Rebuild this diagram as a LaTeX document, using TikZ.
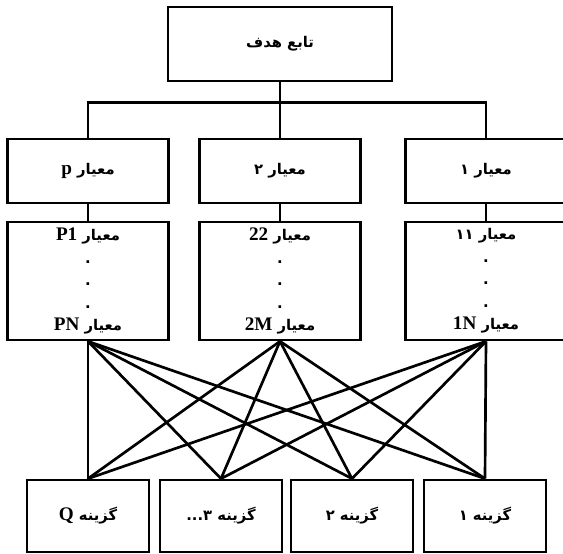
\documentclass[tikz,border=0pt]{standalone}
\usepackage{fontspec}
\usepackage{tikz}
\usetikzlibrary{positioning,calc}
\TeXXeTstate=1
\newfontfamily\farsi[Script=Arabic]{DejaVu Sans}
\newfontfamily\latinfont[Scale=1.3]{Liberation Serif}
\newcommand{\lat}[1]{\beginL{\latinfont\bfseries #1}\endL}
\newcommand{\fa}[1]{\beginR #1\endR}

\begin{document}
\begin{tikzpicture}[
    block/.style={draw, rectangle, line width=1.9pt, minimum width=4.03cm, minimum height=1.6cm, font=\farsi\bfseries\fontsize{10.5pt}{13pt}\selectfont},
    goalbox/.style={block, minimum width=5.6cm, minimum height=1.85cm},
    subbox/.style={block, minimum height=2.95cm, align=center, font=\farsi\bfseries\fontsize{10.5pt}{16pt}\selectfont},
    altbox/.style={block, minimum width=3.05cm, minimum height=1.8cm},
    edge/.style={line width=1.9pt, draw=black},
]
\useasboundingbox (0,0) rectangle (14.075,13.85);

% Goal
\node[goalbox] (goal) at (7.0, 12.75) {\fa{تابع هدف}};

% Criteria
\node[block] (critp) at (2.2, 9.575) {\fa{معیار \lat{p}}};
\node[block] (crit2) at (7.0, 9.575) {\fa{معیار ۲}};
\node[block] (crit1) at (12.15, 9.575) {\fa{معیار ۱}};

% Sub-criteria
\node[subbox] (subp) at (2.2, 6.825) {\fa{معیار \lat{P1}}\\ .\\ .\\ .\\ \fa{معیار \lat{PN}}};
\node[subbox] (sub2) at (7.0, 6.825) {\fa{معیار \lat{22}}\\ .\\ .\\ .\\ \fa{معیار \lat{2M}}};
\node[subbox] (sub1) at (12.15, 6.825) {\fa{معیار ۱۱}\\ .\\ .\\ .\\ \fa{معیار \lat{1N}}};

% Alternatives
\node[altbox] (altq) at (2.2, 0.95) {\fa{گزینه \lat{Q}}};
\node[altbox] (alt3) at (5.525, 0.95) {\fa{گزینه ۳...}};
\node[altbox] (alt2) at (8.8, 0.95) {\fa{گزینه ۲}};
\node[altbox] (alt1) at (12.125, 0.95) {\fa{گزینه ۱}};

% Goal to criteria
\draw[edge] (goal.south) -- ++(0,-0.5) -| (critp.north);
\draw[edge] (goal.south) -- ++(0,-0.5) -| (crit1.north);
\draw[edge] (goal.south) -- (crit2.north);

% Criteria to sub-criteria
\draw[edge] (critp) -- (subp);
\draw[edge] (crit2) -- (sub2);
\draw[edge] (crit1) -- (sub1);

% Sub-criteria to alternatives
\draw[edge] (subp.south) -- (altq.north);
\draw[edge] (subp.south) -- (alt3.north);
\draw[edge] (subp.south) -- (alt2.north);
\draw[edge] (subp.south) -- (alt1.north);
\draw[edge] (sub2.south) -- (altq.north);
\draw[edge] (sub2.south) -- (alt3.north);
\draw[edge] (sub2.south) -- (alt2.north);
\draw[edge] (sub2.south) -- (alt1.north);
\draw[edge] (sub1.south) -- (altq.north);
\draw[edge] (sub1.south) -- (alt3.north);
\draw[edge] (sub1.south) -- (alt2.north);
\draw[edge] (sub1.south) -- (alt1.north);

\end{tikzpicture}
\end{document}
